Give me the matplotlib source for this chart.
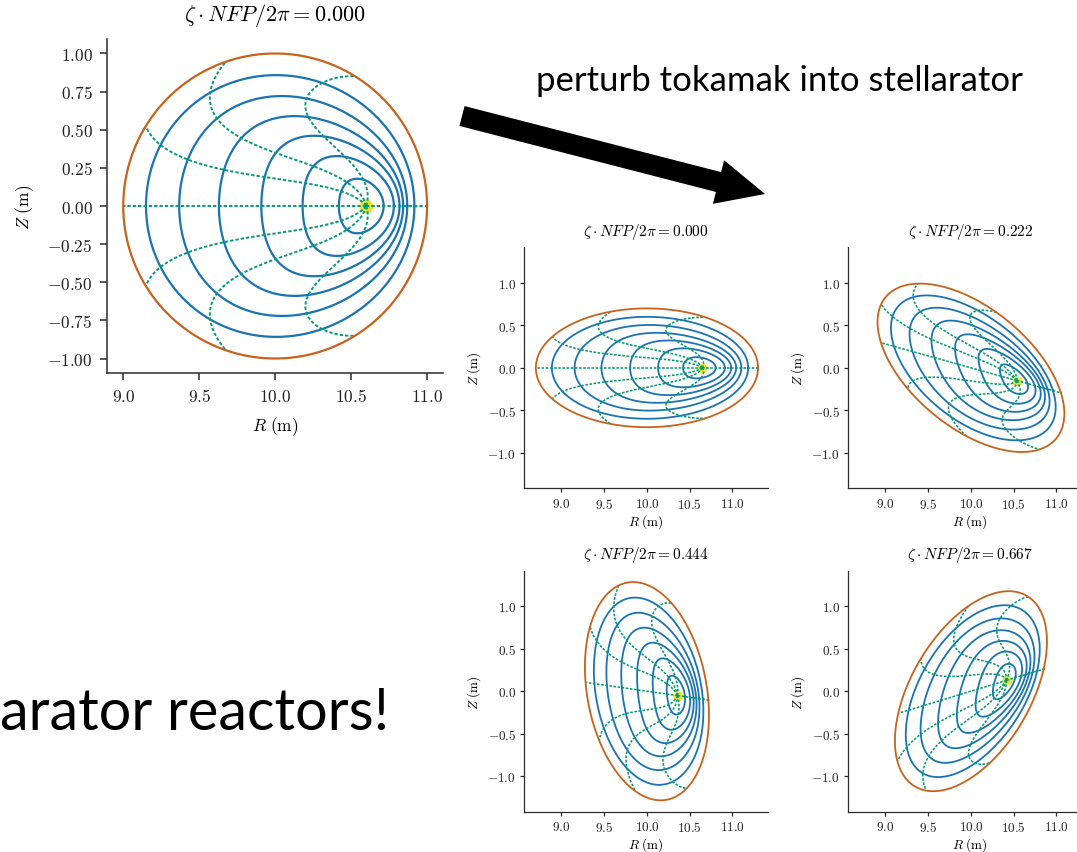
import numpy as np
import matplotlib
matplotlib.use("Agg")
import matplotlib.pyplot as plt
from matplotlib.patches import Polygon

# ---------------------------------------------------------------- canvas
W_PX, H_PX, DPI = 1077, 853, 100
plt.rcParams["mathtext.fontset"] = "cm"
plt.rcParams["font.family"] = ["DejaVu Serif"]

# ---------------------------------------------------------------- equilibrium data
# one entry per cross-section: main tokamak, then the four stellarator cuts
PANEL_ZETA = [0.000, 0.000, 0.222, 0.444, 0.667]      # zeta * NFP / 2pi
PANEL_ELLIPTICITY = [0.0, 0.3, 0.3, 0.3, 0.3]         # rotating-ellipse amplitude
PANEL_AXIS_SHIFT = [0.60, 0.50, 0.51, 0.50, 0.49]     # Shafranov shift of the axis (m)
R_MAJOR = 10.0                                        # major radius (m)

RHO_SURFACES = [1 / 7, 2 / 7, 3 / 7, 4 / 7, 5 / 7, 6 / 7]
RHO_LCFS = 1.0
THETA_LINES_DEG = [0, 45, 90, 135, 180, 225, 270, 315]

# radial shape profile coefficients
WIDTH_BULGE = 0.25     # extra horizontal width at mid radius
ELONG_CORE = 0.40      # vertical elongation near the axis
EGG = 0.9              # egg-shape (flattened inboard side) amplitude
LAMBDA_EDGE = 0.33     # poloidal angle stretching at the edge (rad)
LAMBDA_MID = 1.57      # extra stretching at mid radius (rad)
MU_CORE = 0.15         # second-harmonic angle stretching (rad)

MAIN_X_TICKS = [9.0, 9.5, 10.0, 10.5, 11.0]
MAIN_Y_TICKS = [-1.00, -0.75, -0.50, -0.25, 0.00, 0.25, 0.50, 0.75, 1.00]
SMALL_X_TICKS = [9.0, 9.5, 10.0, 10.5, 11.0]
SMALL_Y_TICKS = [-1.0, -0.5, 0.0, 0.5, 1.0]

ARROW_TEXT = "perturb tokamak into stellarator"
SIDE_TEXT = "arator reactors!"

C_RHO = "#1a74b3"
C_THETA = "#029e73"
C_LCFS = "#c8621c"
C_AXIS = "#ece133"
C_SPINE = "#2b2b2b"


def cross_section(rho, theta, shift, eps, zeta_frac):
    """Map flux coordinates (rho, theta) to (R, Z) for one toroidal cut."""
    rho = np.asarray(rho, float)
    theta = np.asarray(theta, float)
    smooth = 3 * rho**2 - 2 * rho**3
    mid = shift * (1 - smooth)
    half_w = rho * (1 + WIDTH_BULGE * rho * (1 - rho))
    half_h = rho * (1 + ELONG_CORE * (1 - rho) ** 3)
    egg = EGG * rho**2 * (1 - rho) ** 2
    lam = LAMBDA_EDGE + LAMBDA_MID * rho * (1 - rho)
    mu = MU_CORE * (1 - rho**4)
    a = theta + lam * np.sin(theta) + mu * np.sin(2 * theta)
    x = mid + half_w * np.cos(a) + egg * (np.cos(2 * a) - 1)
    y = half_h * np.sin(a)
    z = x + 1j * y
    # rotating ellipse: real-linear map z -> z + eps e^{-i N zeta} conj(z)
    z = z + eps * np.exp(-2j * np.pi * zeta_frac) * np.conj(z)
    return R_MAJOR + z.real, z.imag


def draw_panel(ax, k, lw_rho, lw_theta, dash, ms):
    shift = PANEL_AXIS_SHIFT[k]
    eps = PANEL_ELLIPTICITY[k]
    zf = PANEL_ZETA[k]
    th = np.linspace(0, 2 * np.pi, 721)
    for rho in RHO_SURFACES:
        R, Z = cross_section(rho, th, shift, eps, zf)
        ax.plot(R, Z, color=C_RHO, lw=lw_rho, zorder=2)
    r_axis, z_axis = cross_section(0.0, 0.0, shift, eps, zf)
    ax.plot([r_axis], [z_axis], "o", color=C_AXIS, ms=ms, mec="none", zorder=3)
    rr = np.linspace(0, 1, 400)
    for tdeg in THETA_LINES_DEG:
        R, Z = cross_section(rr, np.deg2rad(tdeg) * np.ones_like(rr), shift, eps, zf)
        ax.plot(R, Z, color=C_THETA, lw=lw_theta, dashes=dash, zorder=4)
    R, Z = cross_section(RHO_LCFS, th, shift, eps, zf)
    ax.plot(R, Z, color=C_LCFS, lw=lw_rho, zorder=5)


def style_axes(ax, xt, yt, xfmt, yfmt, fs, tick_len, pad, lw):
    for s in ("top", "right"):
        ax.spines[s].set_visible(False)
    for s in ("left", "bottom"):
        ax.spines[s].set_color(C_SPINE)
        ax.spines[s].set_linewidth(lw)
    ax.set_xticks(xt)
    ax.set_xticklabels([xfmt.format(v) for v in xt])
    ax.set_yticks(yt)
    ax.set_yticklabels([yfmt.format(v) for v in yt])
    ax.tick_params(direction="out", length=tick_len, width=lw, color=C_SPINE,
                   labelsize=fs, pad=pad, labelcolor="#222222")


def px_rect(left, top, w, h):
    return [left / W_PX, 1 - (top + h) / H_PX, w / W_PX, h / H_PX]


fig = plt.figure(figsize=(W_PX / DPI, H_PX / DPI), dpi=DPI)
fig.patch.set_facecolor("white")

# ---------------------------------------------------------------- slide overlay (text + arrow)
ov = fig.add_axes([0, 0, 1, 1])
ov.set_xlim(0, W_PX)
ov.set_ylim(H_PX, 0)
ov.axis("off")
ov.patch.set_visible(False)

tail = np.array([462.0, 117.0])
tip = np.array([765.0, 195.0])
u = (tip - tail) / np.linalg.norm(tip - tail)
n = np.array([-u[1], u[0]])
shaft_w, head_w, head_l = 20.5, 45.0, 48.0
base = tip - head_l * u
arrow_pts = [tail + n * shaft_w / 2, base + n * shaft_w / 2, base + n * head_w / 2, tip,
             base - n * head_w / 2, base - n * shaft_w / 2, tail - n * shaft_w / 2]
ov.add_patch(Polygon(arrow_pts, closed=True, color="black", lw=0))

t1 = ov.text(536, 91, ARROW_TEXT, fontsize=22, family=["Lato", "DejaVu Sans"],
             ha="left", va="baseline", color="black")
t2 = ov.text(0, 730, SIDE_TEXT, fontsize=36, family=["Lato", "DejaVu Sans"],
             ha="left", va="baseline", color="black")

# ---------------------------------------------------------------- main tokamak panel
ax0 = fig.add_axes(px_rect(107.3, 40, 335.7, 334))
draw_panel(ax0, 0, lw_rho=1.6, lw_theta=1.4, dash=(1.7, 1.05), ms=10)
ax0.set_xlim(8.895, 11.105)
ax0.set_ylim(-1.095, 1.095)
style_axes(ax0, MAIN_X_TICKS, MAIN_Y_TICKS, "${:.1f}$", "${:.2f}$", 12.5, 5, 5.5, 1.1)
ax0.set_title(r"$\zeta \cdot NFP/2\pi = {:.3f}$".format(PANEL_ZETA[0]),
              fontsize=16, y=1.048, va="center")
ax0.set_xlabel(r"$R\ (\mathrm{m})$", fontsize=12.5)
ax0.set_ylabel(r"$Z\ (\mathrm{m})$", fontsize=12.5)
ax0.xaxis.set_label_coords(0.5, -0.158)
ax0.yaxis.set_label_coords(-0.245, 0.5)
ax0.xaxis.label.set_verticalalignment("center")
ax0.yaxis.label.set_verticalalignment("center")

# ---------------------------------------------------------------- stellarator cuts
small_boxes = [(524.3, 248.3), (848.3, 248.3), (524.3, 571.7), (848.3, 571.7)]
for i, (left, top) in enumerate(small_boxes):
    k = i + 1
    ax = fig.add_axes(px_rect(left, top, 244, 241))
    draw_panel(ax, k, lw_rho=1.3, lw_theta=1.15, dash=(1.6, 1.0), ms=7)
    ax.set_xlim(8.565, 11.42)
    ax.set_ylim(-1.42, 1.42)
    style_axes(ax, SMALL_X_TICKS, SMALL_Y_TICKS, "${:.1f}$", "${:.1f}$", 9.5, 3, 3.0, 0.9)
    ax.set_title(r"$\zeta \cdot NFP/2\pi = {:.3f}$".format(PANEL_ZETA[k]),
                 fontsize=11, y=1.035, va="center")
    ax.set_xlabel(r"$R\ (\mathrm{m})$", fontsize=9.5)
    ax.set_ylabel(r"$Z\ (\mathrm{m})$", fontsize=9.5)
    ax.xaxis.set_label_coords(0.5, -0.135)
    ax.yaxis.set_label_coords(-0.205, 0.5)
    ax.xaxis.label.set_verticalalignment("center")
    ax.yaxis.label.set_verticalalignment("center")

# fit slide text widths to their boxes
fig.canvas.draw()
renderer = fig.canvas.get_renderer()
for txt, width in ((t1, 484.0), (t2, 390.0)):
    bb = txt.get_window_extent(renderer)
    txt.set_fontsize(txt.get_fontsize() * width / bb.width)

fig.savefig("out.png", dpi=DPI, facecolor="white")
